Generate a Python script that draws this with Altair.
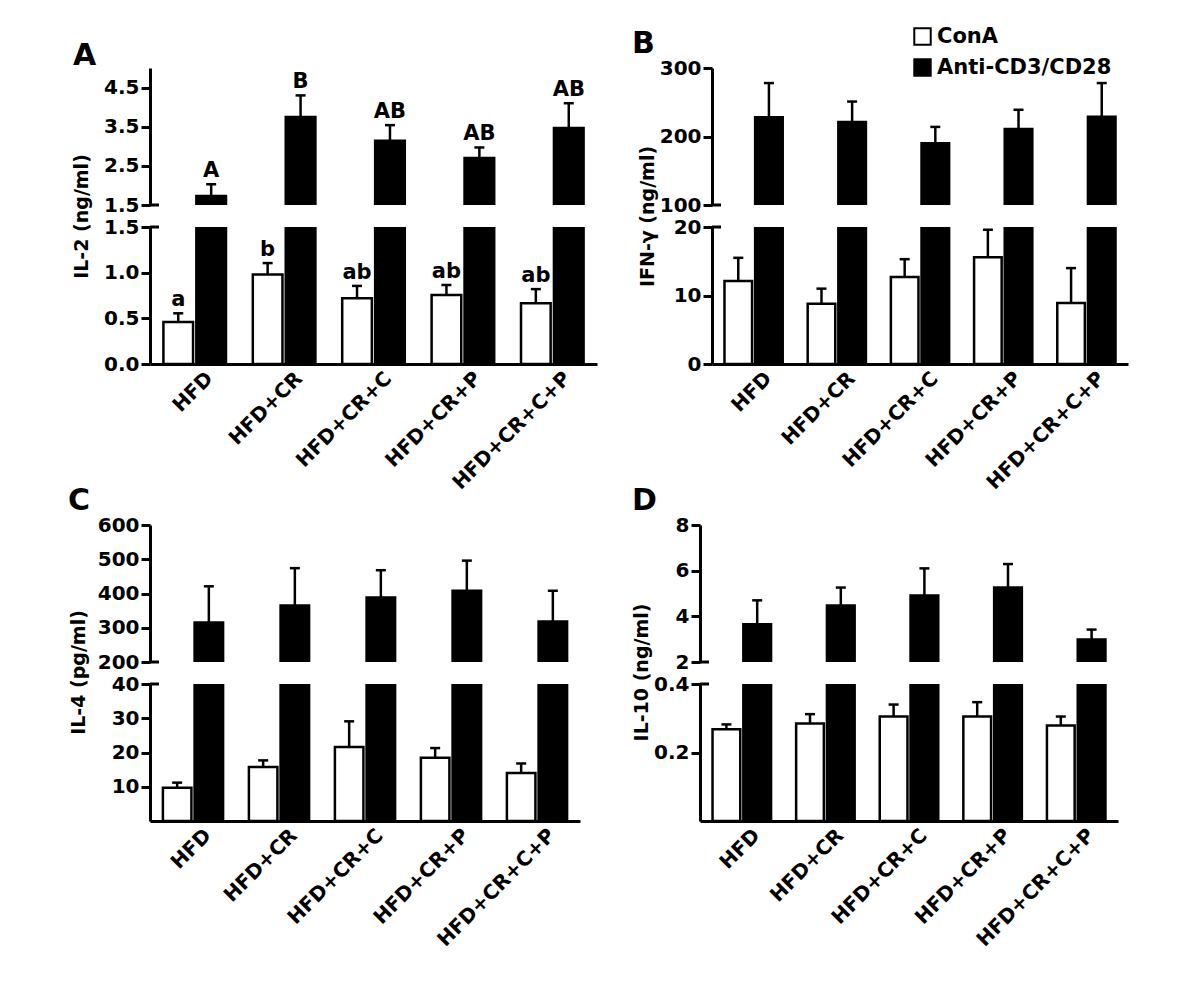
import altair as alt
import pandas as pd

FONT = "DejaVu Sans"

groups = ["HFD", "HFD+CR", "HFD+CR+C", "HFD+CR+P", "HFD+CR+C+P"]
series = ["ConA", "Anti-CD3/CD28"]

# Panel A: IL-2 (ng/ml)
il2_cona = [0.46, 0.98, 0.72, 0.755, 0.665]
il2_cona_err = [0.555, 1.105, 0.855, 0.865, 0.82]
il2_anti = [1.73, 3.75, 3.14, 2.70, 3.47]
il2_anti_err = [2.03, 4.30, 3.54, 2.97, 4.10]
il2_cona_letters = ["a", "b", "ab", "ab", "ab"]
il2_anti_letters = ["A", "B", "AB", "AB", "AB"]

# Panel B: IFN-gamma (ng/ml)
ifn_cona = [12.1, 8.8, 12.7, 15.6, 8.9]
ifn_cona_err = [15.5, 11.0, 15.3, 19.6, 14.0]
ifn_anti = [228, 221, 190, 211, 229]
ifn_anti_err = [278, 251, 214, 239, 278]

# Panel C: IL-4 (pg/ml)
il4_cona = [9.7, 15.8, 21.6, 18.5, 14.0]
il4_cona_err = [11.2, 17.7, 29.1, 21.3, 16.8]
il4_anti = [315, 365, 388, 408, 318]
il4_anti_err = [421, 474, 468, 496, 408]

# Panel D: IL-10 (ng/ml)
il10_cona = [0.268, 0.285, 0.305, 0.305, 0.279]
il10_cona_err = [0.282, 0.312, 0.340, 0.347, 0.305]
il10_anti = [3.65, 4.47, 4.91, 5.26, 2.99]
il10_anti_err = [4.70, 5.26, 6.10, 6.29, 3.42]

no_letters = ["", "", "", "", ""]

LEGEND = alt.Legend(
    orient="none", legendX=762, legendY=-42, title=None,
    symbolType="square", symbolSize=270, symbolStrokeColor="black",
    symbolStrokeWidth=2, symbolOpacity=1, labelLimit=0,
    labelFont=FONT, labelFontSize=21, labelFontWeight="bold",
    labelColor="black", labelOffset=4, rowPadding=6,
)


def build_df(cona, cona_err, anti, anti_err, cona_let, anti_let):
    rows = []
    for i, g in enumerate(groups):
        rows.append({"group": g, "series": series[0], "value": cona[i],
                     "err": cona_err[i], "letter": cona_let[i]})
        rows.append({"group": g, "series": series[1], "value": anti[i],
                     "err": anti_err[i], "letter": anti_let[i]})
    return pd.DataFrame(rows)


def segment(df, dom, ticks, fmt, width, height, upper, ytitle=None,
            tx=0, ty=0, title=None):
    yscale = alt.Scale(domain=dom, nice=False, zero=False)
    if upper:
        xaxis = None
        yaxis = alt.Axis(values=ticks, format=fmt, title=None)
    else:
        xaxis = alt.Axis(title=None, labelAngle=-45, labelAlign="right",
                         labelBaseline="middle", ticks=False,
                         labelPadding=11, labelOffset=15, labelFontSize=20)
        yaxis = alt.Axis(values=ticks, format=fmt, title=ytitle,
                         titleX=tx, titleY=ty, titleAngle=270,
                         titleAlign="center", titleBaseline="middle")
    x = alt.X("group:N", sort=groups,
              scale=alt.Scale(domain=groups, paddingInner=0.3, paddingOuter=0.15),
              axis=xaxis)
    xo = alt.XOffset("series:N", sort=series,
                     scale=alt.Scale(domain=series, paddingInner=0.1))
    base = alt.Chart(df)
    bars = base.transform_filter(f"datum.value > {dom[0]}").mark_bar(
        clip=True, stroke="black", strokeWidth=2.5
    ).encode(
        x=x, xOffset=xo,
        y=alt.Y("value:Q", scale=yscale, axis=yaxis),
        y2=alt.datum(dom[0]),
        fill=alt.Fill("series:N",
                      scale=alt.Scale(domain=series, range=["white", "black"]),
                      legend=LEGEND),
    )
    inrange = f"datum.value >= {dom[0]} && datum.value <= {dom[1]}"
    sel = base.transform_filter(inrange)
    rule = sel.mark_rule(color="black", strokeWidth=2.5).encode(
        x=x, xOffset=xo,
        y=alt.Y("value:Q", scale=yscale, axis=yaxis),
        y2="err:Q",
    )
    cap = sel.mark_tick(color="black", size=10, thickness=2.5, opacity=1).encode(
        x=x, xOffset=xo,
        y=alt.Y("err:Q", scale=yscale, axis=yaxis),
    )
    txt = sel.transform_filter("datum.letter != ''").mark_text(
        baseline="bottom", dy=-3, font=FONT, fontSize=21,
        fontWeight="bold", color="black",
    ).encode(
        x=x, xOffset=xo,
        y=alt.Y("err:Q", scale=yscale, axis=yaxis),
        text="letter:N",
    )
    brk = alt.Chart(pd.DataFrame({"b": [dom[0] if upper else dom[1]]})).mark_rule(
        color="black", strokeWidth=3
    ).encode(
        y=alt.Y("b:Q", scale=yscale, axis=yaxis),
        x=alt.value(0), x2=alt.value(9),
    )
    ch = alt.layer(bars, rule, cap, txt, brk).properties(width=width, height=height)
    if title is not None:
        ch = ch.properties(title=title)
    return ch


def panel(letter, df, ytitle, up_dom, up_ticks, up_fmt, lo_dom, lo_ticks,
          lo_fmt, width, title_dx, title_off, tx, ty):
    title = alt.TitleParams(letter, anchor="start", frame="group", dx=title_dx,
                            offset=title_off, fontSize=30, font=FONT,
                            fontWeight="bold", baseline="alphabetic",
                            color="black")
    up = segment(df, up_dom, up_ticks, up_fmt, width, 137, True, title=title)
    lo = segment(df, lo_dom, lo_ticks, lo_fmt, width, 137, False,
                 ytitle=ytitle, tx=tx, ty=ty)
    return alt.vconcat(up, lo, spacing=22, bounds="flush").resolve_scale(
        x="independent", y="independent", xOffset="independent")


dfA = build_df(il2_cona, il2_cona_err, il2_anti, il2_anti_err,
               il2_cona_letters, il2_anti_letters)
dfB = build_df(ifn_cona, ifn_cona_err, ifn_anti, ifn_anti_err, no_letters, no_letters)
dfC = build_df(il4_cona, il4_cona_err, il4_anti, il4_anti_err, no_letters, no_letters)
dfD = build_df(il10_cona, il10_cona_err, il10_anti, il10_anti_err, no_letters, no_letters)

pA = panel("A", dfA, "IL-2 (ng/ml)", [1.5, 5.0], [1.5, 2.5, 3.5, 4.5], ".1f",
           [0, 1.5], [0, 0.5, 1.0, 1.5], ".1f", 447, -77, -27, -69, -11)
pB = panel("B", dfB, "IFN-γ (ng/ml)", [100, 300], [100, 200, 300], "d",
           [0, 20], [0, 10, 20], "d", 416, -80, -25, -65, -11)
pC = panel("C", dfC, "IL-4 (pg/ml)", [200, 600], [200, 300, 400, 500, 600], "d",
           [0, 40], [10, 20, 30, 40], "d", 430, -82, -25, -72, -12)
pD = panel("D", dfD, "IL-10 (ng/ml)", [2, 8], [2, 4, 6, 8], "d",
           [0, 0.4], [0.2, 0.4], ".1f", 418, -68, -25, -59, -12)

row1 = alt.hconcat(pA, pB, spacing=35).resolve_scale(
    x="independent", y="independent", xOffset="independent")
row2 = alt.hconcat(pC, pD, spacing=51).resolve_scale(
    x="independent", y="independent", xOffset="independent")

chart = alt.vconcat(row1, row2, spacing=-7).resolve_scale(
    x="independent", y="independent", xOffset="independent"
).properties(
    padding={"left": 60, "top": 18, "right": 5, "bottom": 5}
).configure_axis(
    domainColor="black", domainWidth=3, tickColor="black", tickWidth=3,
    tickSize=9, labelFont=FONT, labelFontSize=20, labelFontWeight="bold",
    labelColor="black", labelPadding=2, titleFont=FONT, titleFontSize=19,
    titleFontWeight="bold", titleColor="black", grid=False,
).configure_view(stroke=None)

chart.save("out.html", embed_options={"renderer": "svg", "actions": False})
